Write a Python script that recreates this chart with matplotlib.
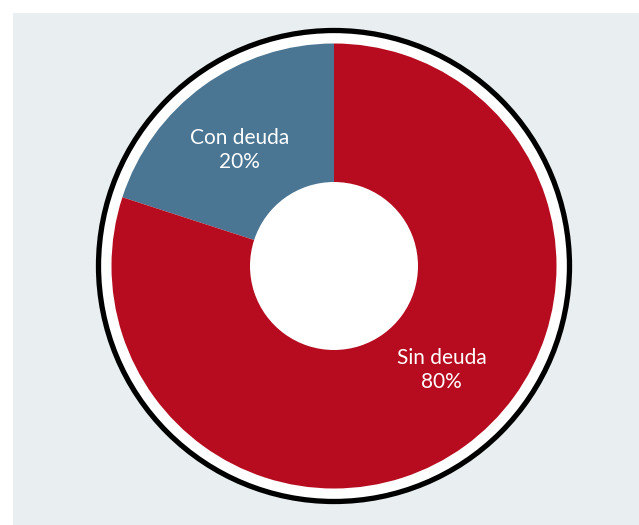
import matplotlib
matplotlib.use("Agg")
import matplotlib.pyplot as plt
from matplotlib.patches import Rectangle, Circle
import numpy as np

categories = ["Con deuda", "Sin deuda"]
values = [20, 80]
colors = ["#4a7593", "#b70c1f"]

W, H = 639, 525
fig = plt.figure(figsize=(W / 100, H / 100), dpi=100, facecolor="white")
fig.patches.append(Rectangle((13 / W, 0), 1 - 13 / W, (H - 13) / H,
                             transform=fig.transFigure, facecolor="#e9eef0",
                             edgecolor="none", zorder=-10))

cx, cy, half = 334, 266, 250
ax = fig.add_axes([(cx - half) / W, (H - cy - half) / H, 2 * half / W, 2 * half / H])
ax.set_zorder(5)
ax.patch.set_alpha(0)

R = 222.5 / half
hole = 84 / half
ax.add_patch(Circle((0, 0), 235.5 / half, facecolor="white", edgecolor="black",
                    linewidth=3.8, zorder=0))

wedges, _ = ax.pie(values, colors=colors, startangle=90, counterclock=True,
                   radius=R, wedgeprops=dict(width=R - hole, edgecolor="none"),
                   center=(0, 0), frame=True)
ax.set_xlim(-1, 1)
ax.set_ylim(-1, 1)
ax.set_aspect("equal")
ax.axis("off")

font = ["Lato", "DejaVu Sans"]
label_angles = [129.3, -44]
label_r = 0.673 * R
for cat, val, ang in zip(categories, values, label_angles):
    a = np.deg2rad(ang)
    ax.text(label_r * np.cos(a), label_r * np.sin(a), f"{cat}\n{val}%",
            ha="center", va="center", color="white", fontsize=15,
            family=font, linespacing=1.25)

fig.savefig("out.png", dpi=100, facecolor="white")
